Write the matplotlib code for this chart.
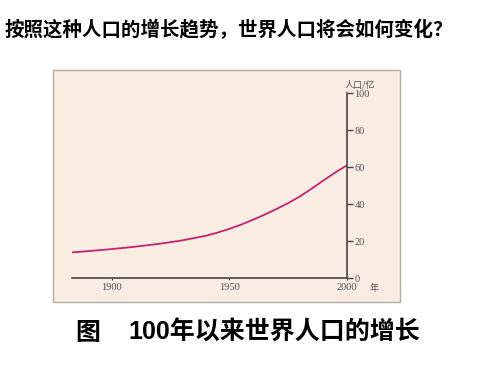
import matplotlib
matplotlib.use("Agg")
import matplotlib.pyplot as plt
from matplotlib.patches import Rectangle

years = [1883, 1890, 1900, 1910, 1920, 1930, 1940, 1945, 1950, 1955,
         1960, 1965, 1970, 1975, 1980, 1985, 1990, 1995, 2000]
population = [14, 14.7, 15.8, 17.1, 18.6, 20.5, 23.0, 24.7, 26.7, 29.0,
              31.6, 34.4, 37.4, 40.6, 44.2, 48.4, 52.8, 57.1, 61]
x_ticks = [1900, 1950, 2000]
y_ticks = [0, 20, 40, 60, 80, 100]

title = "按照这种人口的增长趋势，世界人口将会如何变化？"
caption_fig = "图"
caption = "100年以来世界人口的增长"
y_unit = "人口/亿"
x_unit = "年"

W, H = 500, 375
fig = plt.figure(figsize=(W / 100, H / 100), dpi=100)
fig.patch.set_facecolor("white")

def fx(px):
    return px / W

def fy(py):
    return 1 - py / H

cjk = ["Noto Sans CJK SC", "DejaVu Sans"]
serif = ["Liberation Serif", "DejaVu Serif"]

# beige panel
panel = Rectangle((fx(53), fy(302)), fx(400) - fx(53), fy(70) - fy(302),
                  transform=fig.transFigure, facecolor="#f9ede3",
                  edgecolor="#b5aca4", linewidth=1.0, zorder=-5)
fig.patches.append(panel)

left, right, top, bottom = 72, 346.7, 93.3, 278.3
ax = fig.add_axes([fx(left), fy(bottom), fx(right) - fx(left), fy(top) - fy(bottom)])
ax.set_zorder(5)
ax.set_facecolor("none")
ax.plot(years, population, color="#c2246e", linewidth=1.3,
        solid_capstyle="round", solid_joinstyle="round")
ax.set_xlim(1883, 2000)
ax.set_ylim(0, 100)
for s in ["top", "left"]:
    ax.spines[s].set_visible(False)
for s in ["bottom", "right"]:
    ax.spines[s].set_color("#4a4242")
    ax.spines[s].set_linewidth(1.2)
ax.yaxis.tick_right()
ax.set_xticks(x_ticks)
ax.set_yticks(y_ticks)
ax.set_xticklabels([str(v) for v in x_ticks], family=serif, fontsize=7.5, color="#555050")
ax.set_yticklabels([str(v) for v in y_ticks], family=serif, fontsize=7.5, color="#555050")
ax.tick_params(axis="y", direction="out", length=4, width=1.0, color="#4a4242", pad=1.5)
ax.tick_params(axis="x", direction="out", length=1.5, width=0.8, color="#4a4242", pad=2)

fig.text(fx(360), fy(85), y_unit, family=cjk, fontsize=6.5, color="#555050",
         ha="center", va="center", zorder=6)
fig.text(fx(374), fy(288), x_unit, family=cjk, fontsize=6.5, color="#555050",
         ha="center", va="center", zorder=6)

fig.text(fx(5), fy(30), title, family=cjk, fontsize=14, fontweight="bold",
         color="black", ha="left", va="center")
fig.text(fx(75), fy(333), caption_fig, family=cjk, fontsize=18, fontweight="bold",
         color="black", ha="left", va="center")
fig.text(fx(128), fy(333), caption, family=["Liberation Sans", "Noto Sans CJK SC"],
         fontsize=18, fontweight="bold", color="black", ha="left", va="center")

fig.savefig("out.png", dpi=100, facecolor="white")
